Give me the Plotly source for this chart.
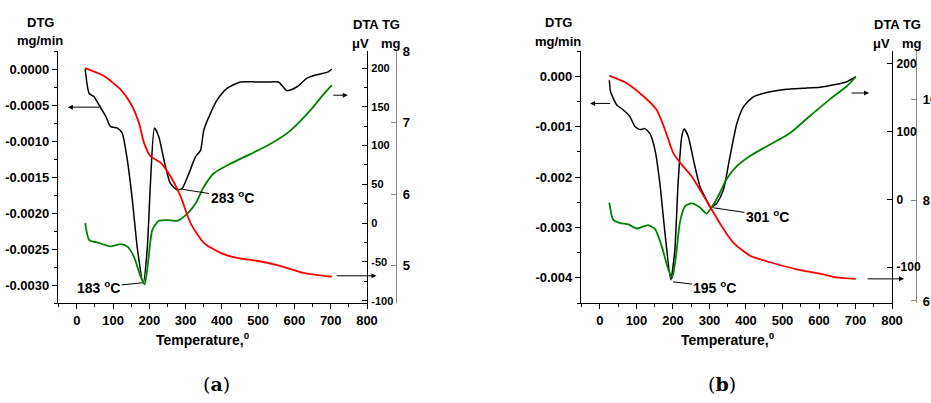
import plotly.graph_objects as go

W, H = 931, 403

# ---------------- Panel (a) data ----------------
a_dtg_T = [23, 34, 47.5, 61, 80, 93, 112, 125, 139, 153, 167, 183, 194, 203, 214, 226, 240, 258, 277, 290,
           309, 327, 341, 350, 368, 387, 414, 451, 496, 533, 556, 579, 606, 634, 661, 693, 703]
a_dtg = [0.0, -0.00034, -0.000385, -0.0005, -0.00066, -0.0008, -0.00082, -0.00089, -0.00126, -0.00182,
         -0.0025, -0.00298, -0.0025, -0.00158, -0.00082, -0.00094, -0.00126, -0.00159, -0.00168, -0.00166,
         -0.00145, -0.00122, -0.00113, -0.00085, -0.00062, -0.00043, -0.00027, -0.00018, -0.00018, -0.00018,
         -0.00018, -0.0003, -0.00025, -0.00013, -0.00008, -0.00004, 0.0]

a_tg_T = [23, 75, 121, 148, 171, 185, 203, 231, 258, 286, 313, 350, 396, 441, 496, 560, 625, 698, 703]
a_tg = [7.76, 7.65, 7.46, 7.27, 7.0, 6.72, 6.53, 6.44, 6.25, 5.97, 5.60, 5.32, 5.18, 5.11, 5.07, 5.0, 4.90,
        4.85, 4.85]

a_dta_T = [23, 34, 57, 93, 121, 139, 157, 176, 187, 196, 208, 226, 249, 277, 304, 327, 350, 377, 423, 478,
           533, 588, 643, 680, 703]
a_dta = [0, -21.8, -25, -30, -27, -30, -43, -69, -79, -52, -9, 3, 4, 3, 12, 25, 46.5, 64, 76.5, 89, 102,
         119, 145, 166, 178]

# ---------------- Panel (b) data ----------------
b_dtg_T = [25.6, 29, 46, 64, 82, 96, 110, 123, 137, 151, 164, 178, 194, 205, 214, 224, 231, 242, 256, 274,
           292, 303, 320, 338, 356, 375, 393, 420, 466, 511, 557, 603, 648, 676, 701]
b_dtg = [-0.00008, -0.00031, -0.00057, -0.00067, -0.0008, -0.001, -0.00106, -0.00104, -0.00114, -0.00147,
         -0.00212, -0.00311, -0.00404, -0.00345, -0.00212, -0.0012, -0.00105, -0.0012, -0.00166, -0.00219,
         -0.00246, -0.0026, -0.00252, -0.00226, -0.0016, -0.00094, -0.00061, -0.00041, -0.00031, -0.00026,
         -0.00024, -0.00022, -0.00016, -0.00011, -0.00001]

b_tg_T = [25.6, 73, 119, 155, 178, 201, 224, 251, 279, 306, 333, 365, 411, 466, 539, 612, 648, 701]
b_tg = [10.48, 10.33, 10.07, 9.80, 9.41, 8.94, 8.71, 8.48, 8.15, 7.82, 7.49, 7.16, 6.90, 6.77, 6.63, 6.53,
        6.47, 6.44]

b_dta_T = [25.6, 36, 55, 78, 100, 132, 151, 169, 187, 198, 208, 219, 233, 251, 274, 292, 306, 324, 347,
           375, 411, 466, 521, 575, 630, 676, 701]
b_dta = [-5, -30, -35, -37, -43, -38, -44, -69, -103, -116, -84, -34, -10, -6, -12, -21, -12, 5, 30, 49,
         64, 81, 98, 123, 148, 167, 181]

# ---------------- Tick labels ----------------
x_ticks = [0, 100, 200, 300, 400, 500, 600, 700, 800]
x_ticktext = ["0", "100", "200", "300", "400", "500", "600", "700", "800"]

a_dtg_ticks = [0.0, -0.0005, -0.001, -0.0015, -0.002, -0.0025, -0.003]
a_dtg_text = ["0.0000", "-0.0005", "-0.0010", "-0.0015", "-0.0020", "-0.0025", "-0.0030"]
a_dta_ticks = [200, 150, 100, 50, 0, -50, -100]
a_dta_text = ["200", "150", "100", "50", "0", "-50", "-100"]
a_tg_ticks = [8, 7, 6, 5]
a_tg_text = ["8", "7", "6", "5"]

b_dtg_ticks = [0.0, -0.001, -0.002, -0.003, -0.004]
b_dtg_text = ["0.000", "-0.001", "-0.002", "-0.003", "-0.004"]
b_dta_ticks = [200, 100, 0, -100]
b_dta_text = ["200", "100", "0", "-100"]
b_tg_ticks = [10, 8, 6]
b_tg_text = ["10", "8", "6"]

FONT = "Liberation Sans, Arial, sans-serif"
BLACK = "#000000"
RED = "#ff0000"
GREEN = "#008000"
GRAY = "#8a8a8a"

fig = go.Figure()

def line(xs, ys, color, xa, ya, w=1.6):
    fig.add_trace(go.Scatter(x=xs, y=ys, mode="lines", xaxis=xa, yaxis=ya,
                             line=dict(color=color, width=w, shape="spline", smoothing=0.6),
                             showlegend=False, hoverinfo="skip"))

line(a_dtg_T, a_dtg, BLACK, "x", "y", 1.5)
line(a_tg_T, a_tg, RED, "x", "y3", 1.8)
line(a_dta_T, a_dta, GREEN, "x", "y2", 1.8)
line(b_dtg_T, b_dtg, BLACK, "x2", "y4", 1.5)
line(b_tg_T, b_tg, RED, "x2", "y6", 1.8)
line(b_dta_T, b_dta, GREEN, "x2", "y5", 1.8)

def px_x(p):
    return p / W

def px_y(p):
    return 1 - p / H

ydom = [px_y(303), px_y(51)]
tick_font = dict(family=FONT, size=13, color="black", weight="bold")
small_font = dict(family=FONT, size=11, color="black", weight="bold")

xcommon = dict(range=[-52, 800], tickvals=x_ticks, ticktext=x_ticktext, showline=True, linecolor="black",
               linewidth=1.3, ticks="outside", ticklen=5, tickwidth=1.2, tickcolor="black",
               tickfont=tick_font, showgrid=False, zeroline=False,
               minor=dict(dtick=50, tick0=0, ticks="outside", ticklen=3, tickcolor="black", showgrid=False))

fig.update_layout(
    width=W, height=H, paper_bgcolor="white", plot_bgcolor="white",
    margin=dict(l=0, r=0, t=0, b=0, autoexpand=False),
    showlegend=False,
    xaxis=dict(domain=[px_x(58), px_x(367)], anchor="y", **xcommon),
    xaxis2=dict(domain=[px_x(581), px_x(892)], anchor="y4", **xcommon),
    yaxis=dict(domain=ydom, anchor="x", range=[-0.00325, 0.00025], tickvals=a_dtg_ticks, ticktext=a_dtg_text,
               showline=True, linecolor="black", linewidth=1.3, ticks="outside", ticklen=5, tickcolor="black",
               tickfont=tick_font, showgrid=False, zeroline=False,
               minor=dict(dtick=0.00025, tick0=0, ticks="outside", ticklen=3, tickcolor="black", showgrid=False)),
    yaxis2=dict(domain=ydom, anchor="x", overlaying="y", side="right", range=[-103, 222],
                tickvals=a_dta_ticks, ticktext=a_dta_text, showline=True, linecolor="black", linewidth=1.3,
                ticks="inside", ticklen=5, tickcolor="black", tickfont=small_font, showgrid=False,
                zeroline=False, ticklabelstandoff=1,
                minor=dict(dtick=25, tick0=0, ticks="inside", ticklen=3, tickcolor="black", showgrid=False)),
    yaxis3=dict(domain=ydom, anchor="free", position=px_x(396), overlaying="y", side="right",
                range=[4.48, 8.0], tickvals=a_tg_ticks, ticktext=a_tg_text, showline=True, linecolor=GRAY,
                linewidth=1.3, ticks="inside", ticklen=5, tickcolor=GRAY, tickfont=tick_font,
                showgrid=False, zeroline=False, ticklabelstandoff=3),
    yaxis4=dict(domain=ydom, anchor="x2", range=[-0.0045, 0.0005], tickvals=b_dtg_ticks, ticktext=b_dtg_text,
                showline=True, linecolor="black", linewidth=1.3, ticks="outside", ticklen=5, tickcolor="black",
                tickfont=tick_font, showgrid=False, zeroline=False,
                minor=dict(dtick=0.0005, tick0=0, ticks="outside", ticklen=3, tickcolor="black", showgrid=False)),
    yaxis5=dict(domain=ydom, anchor="x2", overlaying="y4", side="right", range=[-153, 219],
                tickvals=b_dta_ticks, ticktext=b_dta_text, showline=True, linecolor="black", linewidth=1.3,
                ticks="inside", ticklen=5, tickcolor="black", tickfont=dict(family=FONT, size=12, color="black", weight="bold"),
                showgrid=False, zeroline=False, ticklabelstandoff=1),
    yaxis6=dict(domain=ydom, anchor="free", position=px_x(916), overlaying="y4", side="right",
                range=[5.96, 10.97], tickvals=b_tg_ticks, ticktext=b_tg_text, showline=True, linecolor=GRAY,
                linewidth=1.3, ticks="inside", ticklen=5, tickcolor=GRAY, tickfont=tick_font,
                showgrid=False, zeroline=False, ticklabelstandoff=3),
)

ann_font = dict(family=FONT, size=14, color="black", weight="bold")
lab_font = dict(family=FONT, size=13, color="black", weight="bold")

def txt(px, py, text, font=lab_font):
    fig.add_annotation(x=px_x(px), y=px_y(py), xref="paper", yref="paper", text=text, showarrow=False,
                       font=font, xanchor="center", yanchor="middle")

# axis header texts
txt(40, 23, "DTG"); txt(40, 41, "mg/min")
txt(376, 24, "DTA TG"); txt(360, 43, "μV"); txt(391, 43, "mg")
txt(558, 23, "DTG"); txt(558, 42, "mg/min")
txt(897, 24, "DTA TG"); txt(881, 43, "μV"); txt(912, 43, "mg")
# x titles
txt(203, 339, "Temperature,<sup>0</sup>", dict(family=FONT, size=14, color="black", weight="bold"))
txt(728, 339, "Temperature,<sup>0</sup>", dict(family=FONT, size=14, color="black", weight="bold"))
# panel labels
txt(216, 384, "(<b>a</b>)", dict(family="DejaVu Serif, Liberation Serif, serif", size=19, color="black"))
txt(722, 384, "(<b>b</b>)", dict(family="DejaVu Serif, Liberation Serif, serif", size=19, color="black"))

# peak labels (line to peak)
def peak(xr, yr, x, y, ax, ay, text):
    fig.add_annotation(x=x, y=y, xref=xr, yref=yr, axref=xr, ayref=yr, ax=ax, ay=ay, text=text,
                       showarrow=True, arrowhead=0, arrowwidth=1, arrowcolor="black", standoff=0,
                       startstandoff=0, font=ann_font)

peak("x", "y", 180, -0.00297, 60, -0.00303, "183 <sup>o</sup>C")
peak("x", "y", 290, -0.00167, 428, -0.00178, "283 <sup>o</sup>C")
peak("x2", "y4", 200, -0.00408, 315, -0.00418, "195 <sup>o</sup>C")
peak("x2", "y4", 310, -0.00261, 459, -0.00277, "301 <sup>o</sup>C")

# direction arrows
def arrow(xr, yr, x_tip, x_tail, y, color="black"):
    fig.add_annotation(x=x_tip, y=y, xref=xr, yref=yr, axref=xr, ayref=yr, ax=x_tail, ay=y, text="",
                       showarrow=True, arrowhead=2, arrowsize=1, arrowwidth=1, arrowcolor=color)

arrow("x", "y", -25, 66, -0.00053)
arrow("x", "y2", 747, 703, 165)
arrow("x", "y3", 826, 712, 4.86)
arrow("x2", "y4", -27, 32, -0.00054)
arrow("x2", "y5", 737, 685, 157)
arrow("x2", "y6", 833, 729, 6.44)

fig.write_html("out.html", config={"displayModeBar": False},
               post_script="document.body.style.margin='0';document.body.style.overflow='hidden';")
